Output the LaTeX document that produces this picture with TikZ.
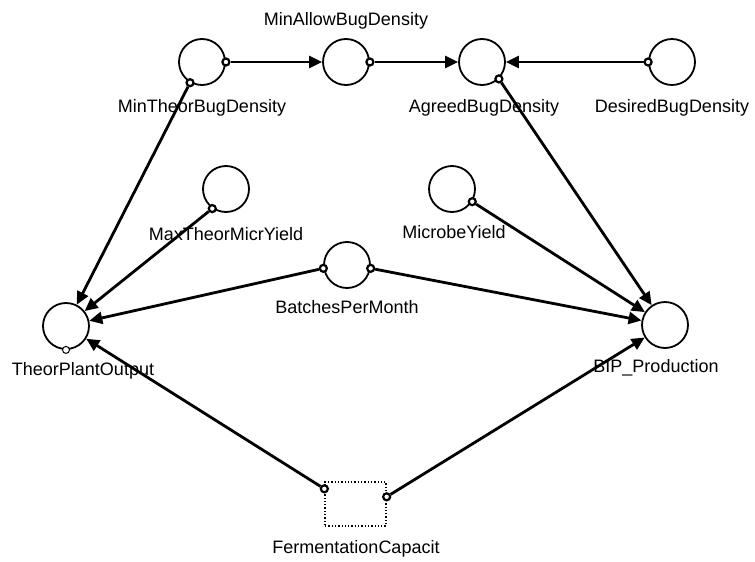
\documentclass[tikz,border=0pt]{standalone}
\usepackage{fontspec}
\setmainfont{Liberation Sans}
\usetikzlibrary{arrows.meta}

\begin{document}
\begin{tikzpicture}[x=1pt, y=-1pt, inner sep=0pt, >={Triangle[length=13pt, width=12pt]}]
		\tikzstyle{every node}=[font=\fontsize{18}{20}\selectfont]
		\tikzstyle{var}=[draw, circle, line width=1.8pt, minimum size=46pt]
		\tikzstyle{stock}=[draw, dotted, line width=1.3pt, minimum width=61pt, minimum height=44pt]
		\tikzstyle{port}=[draw, circle, fill=white, line width=2.2pt, minimum size=7pt]
		\tikzstyle{link}=[->, line width=2.8pt]
		\tikzstyle{lbl}=[anchor=base]
			\useasboundingbox (0, 0) rectangle (755, 562);

			\node[var] (mintheor) at (202, 62) {};
			\node[var] (minallow) at (346, 62) {};
			\node[var] (agreed) at (482, 62) {};
			\node[var] (desired) at (672, 62) {};
			\node[var] (maxyield) at (226, 189) {};
			\node[var] (microbe) at (452, 189) {};
			\node[var] (batches) at (347, 265) {};
			\node[var] (plant) at (66, 326) {};
			\node[var] (bip) at (665, 325) {};
			\node[stock] (ferment) at (355.5, 504) {};

			\node[lbl] (minallow-txt) at (346, 25) {MinAllowBugDensity};
			\node[lbl] (mintheor-txt) at (202, 112) {MinTheorBugDensity};
			\node[lbl] (agreed-txt) at (484, 112) {AgreedBugDensity};
			\node[lbl] (desired-txt) at (672, 112) {DesiredBugDensity};
			\node[lbl] (maxyield-txt) at (226, 240) {MaxTheorMicrYield};
			\node[lbl] (microbe-txt) at (454, 238) {MicrobeYield};
			\node[lbl] (batches-txt) at (347, 313) {BatchesPerMonth};
			\node[lbl] (plant-txt) at (83, 375) {TheorPlantOutput};
			\node[lbl] (bip-txt) at (656, 372) {BIP\_Production};
			\node[lbl] (ferment-txt) at (356, 553) {FermentationCapacit};

			% outflow ports
			\node[port] (mintheor-e) at (mintheor.east) {};
			\node[port] (mintheor-s) at (mintheor.-120) {};
			\node[port] (minallow-e) at (minallow.east) {};
			\node[port] (agreed-se) at (agreed.-45) {};
			\node[port] (desired-w) at (desired.west) {};
			\node[port] (maxyield-sw) at (maxyield.-125) {};
			\node[port] (microbe-se) at (microbe.-32) {};
			\node[port] (batches-w) at (batches.-172) {};
			\node[port] (batches-e) at (batches.-8) {};
			\node[port] (ferment-w) at (ferment.154) {};
			\node[port] (ferment-e) at (ferment.13) {};
			\node[port, line width=1pt] (plant-s) at (plant.south) {};

			\draw[link] (mintheor-e) -- (minallow);
			\draw[link] (minallow-e) -- (agreed);
			\draw[link] (desired-w) -- (agreed);
			\draw[link] (mintheor-s) -- (plant);
			\draw[link] (maxyield-sw) -- (plant);
			\draw[link] (batches-w) -- (plant);
			\draw[link] (ferment-w) -- (plant);
			\draw[link] (agreed-se) -- (bip);
			\draw[link] (microbe-se) -- (bip);
			\draw[link] (batches-e) -- (bip);
			\draw[link] (ferment-e) -- (bip);
		\end{tikzpicture}
\end{document}
